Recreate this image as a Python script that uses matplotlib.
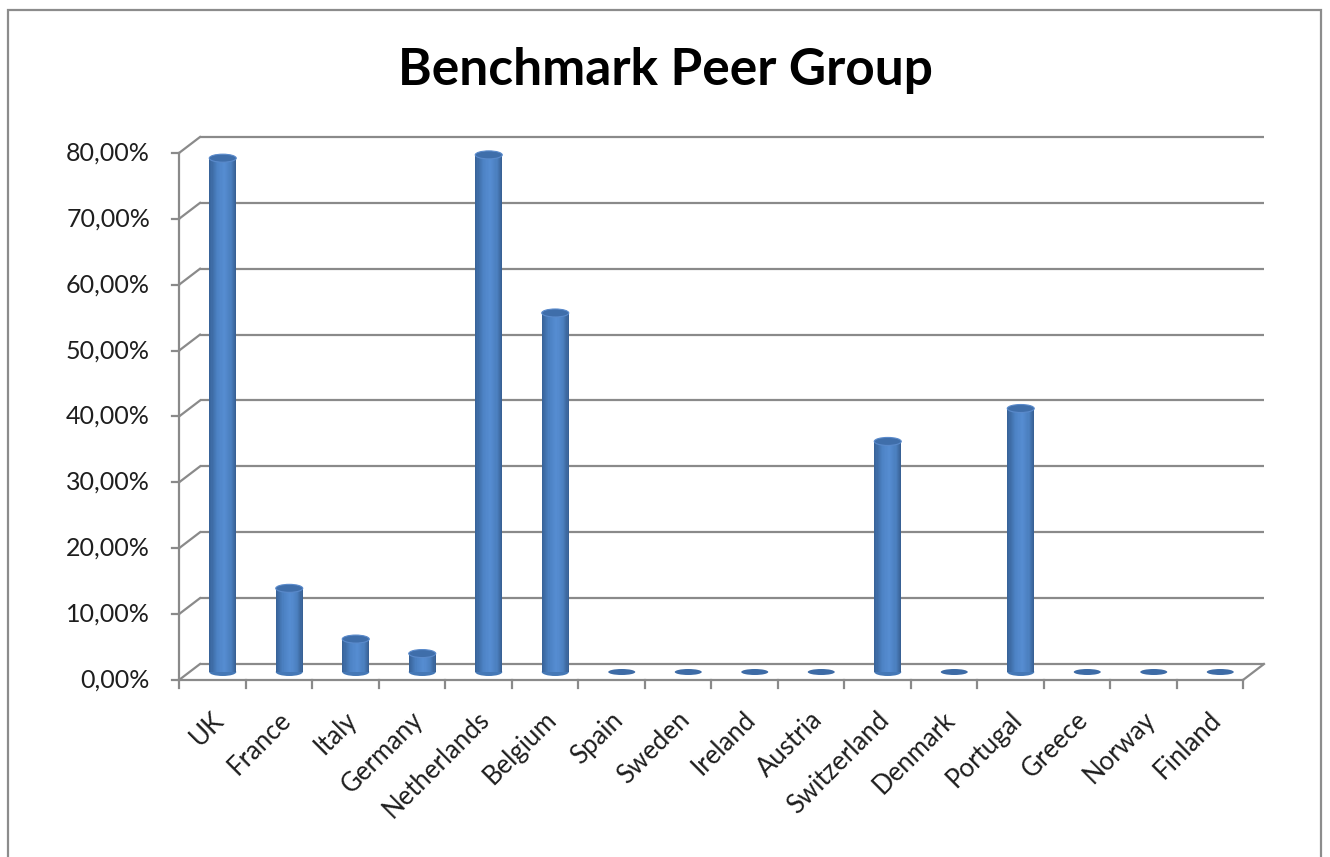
import matplotlib
matplotlib.use('Agg')
import matplotlib.pyplot as plt
from matplotlib.patches import Ellipse, Rectangle
import numpy as np

countries = ['UK', 'France', 'Italy', 'Germany', 'Netherlands', 'Belgium', 'Spain',
             'Sweden', 'Ireland', 'Austria', 'Switzerland', 'Denmark', 'Portugal',
             'Greece', 'Norway', 'Finland']
values = [78.0, 12.7, 5.0, 2.8, 78.5, 54.5, 0.0, 0.0, 0.0, 0.0, 35.0, 0.0, 40.0, 0.0, 0.0, 0.0]
yticks = [0, 10, 20, 30, 40, 50, 60, 70, 80]
ytick_labels = ['0,00%', '10,00%', '20,00%', '30,00%', '40,00%', '50,00%', '60,00%', '70,00%', '80,00%']
title = 'Benchmark Peer Group'

W, H, dpi = 1330, 857, 100
fig = plt.figure(figsize=(W / dpi, H / dpi), dpi=dpi)
fig.patch.set_facecolor('white')

# front plane in pixels
x0, x1 = 179, 1243
y0, y1 = 680, 153
n = len(countries)
ax = fig.add_axes([x0 / W, 1 - y0 / H, (x1 - x0) / W, (y0 - y1) / H])
ax.set_xlim(0, n)
ax.set_ylim(0, 80)
ax.axis('off')

px_x = (x1 - x0) / n      # pixels per category
px_y = (y0 - y1) / 80.0   # pixels per percent
ox = 21 / px_x            # depth offset in data units
oy = 16 / px_y

gc = '#8a8a8a'
lw = 1.6

# back wall gridlines and left wall diagonals
for v, lab in zip(yticks, ytick_labels):
    ax.plot([ox, n + ox], [v + oy, v + oy], color=gc, lw=lw, clip_on=False, zorder=1,
            solid_capstyle='butt')
    ax.plot([0, ox], [v, v + oy], color=gc, lw=lw, clip_on=False, zorder=1)
    ax.plot([-7 / px_x, 0], [v, v], color=gc, lw=lw, clip_on=False, zorder=1)
    ax.text(-29 / px_x, v, lab, ha='right', va='center',
            fontsize=18, family='Lato', color='#1e1e1e')

# front axis and floor
ax.plot([0, 0], [0, 80], color=gc, lw=lw, clip_on=False, zorder=1)
ax.plot([0, n], [0, 0], color=gc, lw=lw, clip_on=False, zorder=1)
ax.plot([n, n + ox], [0, oy], color=gc, lw=lw, clip_on=False, zorder=1)
for i in range(n + 1):
    ax.plot([i, i], [0, -8 / px_y], color=gc, lw=lw, clip_on=False, zorder=1)

# cylinders
bw = 27 / px_x
eh = 8 / px_y
stops_t = [0.0, 0.3, 0.55, 0.8, 1.0]
stops_c = np.array([[0x36, 0x61, 0x96], [0x4c, 0x82, 0xc4], [0x56, 0x8d, 0xd2],
                    [0x4b, 0x7f, 0xbf], [0x36, 0x5e, 0x90]]) / 255.0
N = 24
tt = (np.arange(N) + 0.5) / N
grad = np.stack([np.interp(tt, stops_t, stops_c[:, k]) for k in range(3)], axis=1)

for i, v in enumerate(values):
    cx = i + 0.5 + ox / 2
    base = oy / 2
    if v <= 0:
        ax.add_patch(Ellipse((cx, base), bw, 6 / px_y, facecolor='#3d6ba6',
                             edgecolor='none', zorder=3, clip_on=False))
        continue
    ax.add_patch(Ellipse((cx, base), bw, eh, facecolor='#4578b6', edgecolor='none',
                         zorder=2, clip_on=False))
    xs = cx - bw / 2 + tt * bw
    ax.bar(xs, v, bottom=base, width=bw / N * 1.15, color=grad, linewidth=0,
           zorder=3, clip_on=False)
    ax.add_patch(Ellipse((cx, base + v), bw, eh, facecolor='#3f6eaa', edgecolor='#5a8acb',
                         lw=0.8, zorder=4, clip_on=False))

# category labels
for i, name in enumerate(countries):
    ax.text(i + 0.5 - 1 / px_x, -27 / px_y, name, rotation=45, rotation_mode='anchor',
            ha='right', va='top', fontsize=18.5, family='Lato', color='#1e1e1e')

# title
fig.text(665 / W, 1 - 70 / H, title, ha='center', va='center', fontsize=37,
         family='Lato', fontweight='bold', color='black')

# outer border
fig.add_artist(Rectangle((8 / W, -0.05), (1321 - 8) / W, 1 - 10 / H + 0.05,
                         transform=fig.transFigure, fill=False, edgecolor='#8c8c8c',
                         lw=1.6))

fig.savefig('out.png', dpi=dpi, facecolor='white')
